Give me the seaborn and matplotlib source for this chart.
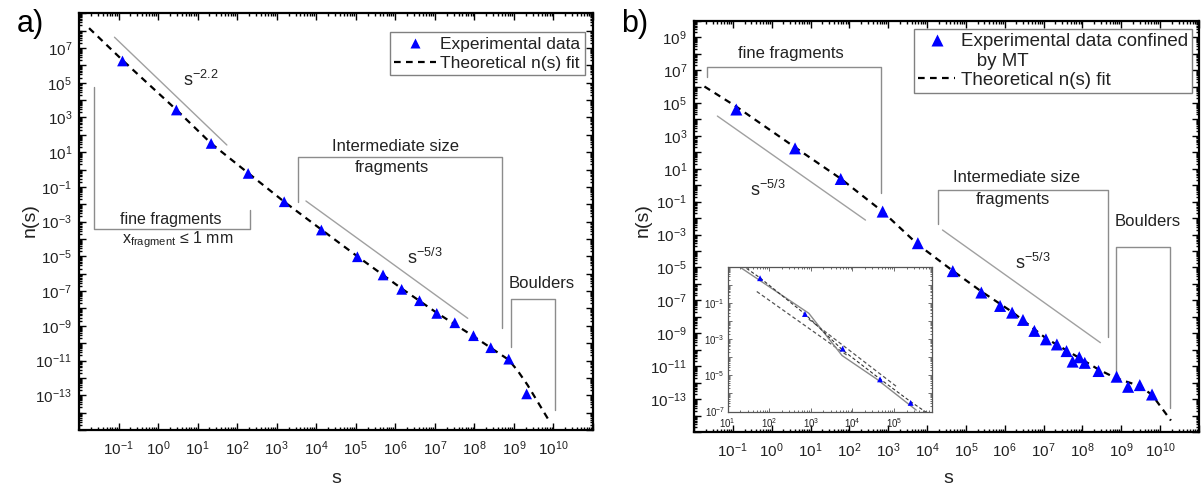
import numpy as np
import matplotlib
matplotlib.use("Agg")
import matplotlib.pyplot as plt
from matplotlib.lines import Line2D
from matplotlib.ticker import FixedLocator, FixedFormatter, LogLocator, NullFormatter
import seaborn as sns

# ---------------- data: panel a (all fragments) ----------------
s_exp_a = [1.26e-1, 2.9e0, 2.2e1, 1.9e2, 1.55e3, 1.35e4, 1.1e5, 4.9e5, 1.45e6,
           4.1e6, 1.12e7, 3.2e7, 9.5e7, 2.6e8, 7.4e8, 2.1e9]
n_exp_a = [1.8e6, 2.7e3, 3.2e1, 6.0e-1, 1.4e-2, 3.3e-4, 9.5e-6, 8.5e-7, 1.26e-7,
           2.8e-8, 5.2e-9, 1.5e-9, 2.7e-10, 5.5e-11, 1.2e-11, 1.2e-13]
s_fit_a = [1.8e-2, 1.26e-1, 2.9e0, 2.2e1, 1.9e2, 1.55e3, 1.35e4, 1.1e5, 1.45e6,
           1.12e7, 9.5e7, 7.4e8, 1.26e9, 2.2e9, 7.9e9]
n_fit_a = [1.4e8, 2.0e6, 2.8e3, 3.2e1, 6.3e-1, 1.4e-2, 3.5e-4, 1.0e-5, 1.4e-7,
           5.6e-9, 2.5e-10, 1.1e-11, 2.5e-12, 4.0e-13, 3.2e-15]
# power-law guides
s_pow22_a = [7.9e-2, 5.5e1]
n_pow22_a = [4.2e7, 2.6e1]
s_pow53_a = [5.5e3, 6.8e7]
n_pow53_a = [1.55e-2, 2.7e-9]

# ---------------- data: panel b (confined by MT) ----------------
s_exp_b = [1.23e-1, 4.0e0, 6.0e1, 7.2e2, 5.8e3, 4.6e4, 2.5e5, 7.6e5, 1.55e6,
           2.95e6, 5.8e6, 1.15e7, 2.2e7, 3.9e7, 5.6e7, 8.3e7, 1.15e8, 2.6e8,
           7.6e8, 1.5e9, 3.0e9, 6.2e9]
n_exp_b = [4.0e4, 1.74e2, 2.4e0, 2.5e-2, 3.0e-4, 6.0e-6, 3.0e-7, 4.6e-8, 1.8e-8,
           6.5e-9, 1.4e-9, 4.3e-10, 2.1e-10, 8.3e-11, 1.9e-11, 3.5e-11, 1.6e-11,
           5.1e-12, 2.3e-12, 5.6e-13, 7.1e-13, 1.9e-13]
s_fit_b = [1.86e-2, 1.23e-1, 4.0e0, 6.0e1, 7.2e2, 5.8e3, 4.6e4, 2.5e5, 1.55e6,
           1.15e7, 8.3e7, 2.6e8, 7.6e8, 3.0e9, 6.2e9, 1.9e10]
n_fit_b = [1.0e6, 6.0e4, 2.0e2, 2.5e0, 2.5e-2, 2.5e-4, 6.3e-6, 3.5e-7, 2.0e-8,
           5.0e-10, 3.2e-11, 6.3e-12, 1.8e-12, 6.3e-13, 1.8e-13, 5.0e-15]
s_pow53_fine_b = [4.0e-2, 2.6e2]
n_pow53_fine_b = [1.6e4, 7.6e-3]
s_pow53_int_b = [2.5e4, 2.9e8]
n_pow53_int_b = [1.9e-3, 2.7e-10]

# inset: the five smallest-size points of panel b, with local fits
s_inset_line = [1.95e1, 8.9e2, 5.6e3, 3.8e4, 3.4e5]
n_inset_line = [1.0e1, 2.75e-2, 1.26e-4, 6.3e-6, 1.2e-7]
s_inset_low = [5.0e1, 7.2e3]
n_inset_low = [4.4e-1, 1.35e-4]
s_inset_up = [8.9e2, 1.12e5]
n_inset_up = [1.3e-2, 2.5e-6]

# ---------------- region brackets (s, n corners) ----------------
bracket_fine_a = ([2.4e-2, 2.4e-2, 2.14e2, 2.14e2], [5.5e4, 3.6e-4, 3.6e-4, 4.7e-3])
bracket_int_a = ([3.4e3, 3.4e3, 5.1e8, 5.1e8], [1.4e-2, 5.5e0, 5.5e0, 7.1e-10])
bracket_bould_a = ([8.5e8, 8.5e8, 1.1e10, 1.1e10], [6.3e-11, 3.4e-8, 3.4e-8, 1.4e-14])
bracket_fine_b = ([2.1e-2, 2.1e-2, 6.6e2, 6.6e2], [4.0e6, 1.6e7, 1.6e7, 3.5e-1])
bracket_int_b = ([1.86e4, 1.86e4, 4.6e8, 4.6e8], [4.4e-3, 5.1e-1, 5.1e-1, 6.2e-10])
bracket_bould_b = ([7.4e8, 7.4e8, 1.8e10, 1.8e10], [3.7e-12, 1.8e-4, 1.8e-4, 2.8e-14])

# ---------------- style ----------------
sns.set_style("ticks")
plt.rcParams.update({
    "font.family": ["Liberation Sans", "DejaVu Sans"],
    "mathtext.fontset": "custom",
    "mathtext.rm": "Liberation Sans",
    "mathtext.it": "Liberation Sans:italic",
    "mathtext.bf": "Liberation Sans:bold",
    "mathtext.default": "regular",
    "axes.linewidth": 1.6,
    "axes.edgecolor": "black",
})

BLUE = "#0000ff"
GUIDE = "#a0a0a0"
BRACKET = "#8c8c8c"
TXT = "#222222"
DASH = (0, (3, 2.4))


def log_axis(ax, xexp, yexp, xlab, ylab, fs, major_len, minor_len, lw, color="black"):
    ax.set_xscale("log")
    ax.set_yscale("log")
    xt = [10.0 ** e for e in xexp]
    yt = [10.0 ** e for e in yexp]
    ax.xaxis.set_major_locator(FixedLocator(xt))
    ax.yaxis.set_major_locator(FixedLocator(yt))
    ax.xaxis.set_major_formatter(FixedFormatter(
        [f"$10^{{{e}}}$" if e in xlab else "" for e in xexp]))
    ax.yaxis.set_major_formatter(FixedFormatter(
        [f"$10^{{{e}}}$" if e in ylab else "" for e in yexp]))
    for axis in (ax.xaxis, ax.yaxis):
        axis.set_minor_locator(LogLocator(base=10, subs=np.arange(2, 10), numticks=200))
        axis.set_minor_formatter(NullFormatter())
    ax.tick_params(which="both", direction="in", top=True, right=True,
                   width=lw, color=color, labelsize=fs, labelcolor=TXT)
    ax.tick_params(which="major", length=major_len)
    ax.tick_params(which="minor", length=minor_len)
    ax.tick_params(axis="x", which="major", pad=7)
    ax.tick_params(axis="y", which="major", pad=5)


def bracket(ax, corners):
    ax.plot(corners[0], corners[1], color=BRACKET, lw=1.0, zorder=1)


fig = plt.figure(figsize=(12.04, 4.93), dpi=100)

# ================= panel a =================
ax = fig.add_axes([0.0656, 0.1278, 0.4269, 0.8452])
log_axis(ax, range(-2, 12), range(-15, 10), range(-1, 11), range(-13, 9, 2),
         11, 5, 2.5, 1.0)
ax.set_xlim(1e-2, 1e11)
ax.set_ylim(1e-15, 1e9)

sns.lineplot(x=s_pow22_a, y=n_pow22_a, ax=ax, color=GUIDE, lw=1.0, sort=False, estimator=None)
sns.lineplot(x=s_pow53_a, y=n_pow53_a, ax=ax, color=GUIDE, lw=1.0, sort=False, estimator=None)
for br in (bracket_fine_a, bracket_int_a, bracket_bould_a):
    bracket(ax, br)
sns.lineplot(x=s_fit_a, y=n_fit_a, ax=ax, color="black", lw=1.6, linestyle=DASH,
             sort=False, estimator=None, zorder=3)
sns.scatterplot(x=s_exp_a, y=n_exp_a, ax=ax, marker="^", color=BLUE, s=60,
                edgecolor="none", zorder=4)

kw = dict(transform=ax.transAxes, color=TXT, ha="center", va="center")
ax.text(0.237, 0.840, r"s$^{-2.2}$", fontsize=13, **kw)
ax.text(0.179, 0.506, "fine fragments", fontsize=11.5, **kw)
ax.text(0.193, 0.456, r"x$_{fragment}$ ≤ 1 mm", fontsize=11.5, **kw)
ax.text(0.615, 0.680, "Intermediate size", fontsize=12, **kw)
ax.text(0.609, 0.629, "fragments", fontsize=12, **kw)
ax.text(0.673, 0.413, r"s$^{-5/3}$", fontsize=13, **kw)
ax.text(0.901, 0.352, "Boulders", fontsize=12, **kw)

ax.set_xlabel("s", fontsize=14, color=TXT)
ax.set_ylabel("n(s)", fontsize=14, color=TXT)
ax.xaxis.set_label_coords(0.5, -0.097)
ax.yaxis.set_label_coords(-0.078, 0.504)

leg_handles = [Line2D([], [], marker="^", color=BLUE, ls="none", ms=7.5, mec="none"),
               Line2D([], [], color="black", lw=1.6, ls=DASH)]
leg = ax.legend(leg_handles, ["Experimental data", "Theoretical n(s) fit"],
                loc="upper right", bbox_to_anchor=(0.984, 0.954), borderaxespad=0,
                fontsize=12.5, frameon=True, fancybox=False, framealpha=1,
                edgecolor="#808080", handlelength=2.4, handletextpad=0.25,
                borderpad=0.25, labelspacing=0.2)
leg.get_frame().set_linewidth(1.0)
for t in leg.get_texts():
    t.set_color(TXT)

fig.text(0.025, 0.951, "a)", fontsize=22, color="black", ha="center", va="center")

# ================= panel b =================
bx = fig.add_axes([0.5764, 0.1237, 0.4194, 0.8343])
log_axis(bx, range(-2, 12), range(-15, 11), range(-1, 11), range(-13, 10, 2),
         11, 5, 2.5, 1.0)
bx.set_xlim(1e-2, 1e11)
bx.set_ylim(1e-15, 1e10)

sns.lineplot(x=s_pow53_fine_b, y=n_pow53_fine_b, ax=bx, color=GUIDE, lw=1.0, sort=False, estimator=None)
sns.lineplot(x=s_pow53_int_b, y=n_pow53_int_b, ax=bx, color=GUIDE, lw=1.0, sort=False, estimator=None)
for br in (bracket_fine_b, bracket_int_b, bracket_bould_b):
    bracket(bx, br)
sns.lineplot(x=s_fit_b, y=n_fit_b, ax=bx, color="black", lw=1.6, linestyle=DASH,
             sort=False, estimator=None, zorder=3)
sns.scatterplot(x=s_exp_b, y=n_exp_b, ax=bx, marker="^", color=BLUE, s=75,
                edgecolor="none", zorder=4)

kw = dict(transform=bx.transAxes, color=TXT, ha="center", va="center")
bx.text(0.192, 0.921, "fine fragments", fontsize=12, **kw)
bx.text(0.147, 0.588, r"s$^{-5/3}$", fontsize=13, **kw)
bx.text(0.639, 0.620, "Intermediate size", fontsize=12, **kw)
bx.text(0.632, 0.566, "fragments", fontsize=12, **kw)
bx.text(0.899, 0.511, "Boulders", fontsize=12, **kw)
bx.text(0.671, 0.410, r"s$^{-5/3}$", fontsize=13, **kw)

bx.set_xlabel("s", fontsize=14, color=TXT)
bx.set_ylabel("n(s)", fontsize=14, color=TXT)
bx.xaxis.set_label_coords(0.503, -0.093)
bx.yaxis.set_label_coords(-0.083, 0.515)

leg_handles_b = [Line2D([], [], marker="^", color=BLUE, ls="none", ms=8, mec="none"),
                 Line2D([], [], ls="none"),
                 Line2D([], [], color="black", lw=1.6, ls=DASH)]
legb = bx.legend(leg_handles_b,
                 ["Experimental data confined", "   by MT", "Theoretical n(s) fit"],
                 loc="upper right", bbox_to_anchor=(0.986, 0.979), borderaxespad=0,
                 fontsize=13.5, frameon=True, fancybox=False, framealpha=1,
                 edgecolor="#808080", handlelength=2.0, handletextpad=0.3,
                 borderpad=0.2, labelspacing=0.12)
legb.get_frame().set_linewidth(1.0)
for t in legb.get_texts():
    t.set_color(TXT)

fig.text(0.527, 0.951, "b)", fontsize=22, color="black", ha="center", va="center")

# ================= inset of panel b =================
ix = fig.add_axes([0.6044, 0.1653, 0.1694, 0.2931])
ix.set_facecolor("white")
log_axis(ix, range(1, 6), range(-7, 2), range(1, 6), range(-7, 0, 2),
         7, 3, 1.5, 0.6, color="#555555")
ix.set_xlim(1e1, 8e5)
ix.set_ylim(1e-7, 1e1)
for sp in ix.spines.values():
    sp.set_linewidth(0.9)
    sp.set_color("#555555")
ix.tick_params(axis="x", which="major", pad=3.5)
ix.tick_params(axis="y", which="major", pad=2)

sns.lineplot(x=s_inset_low, y=n_inset_low, ax=ix, color="#555555", lw=0.9,
             linestyle=(0, (3, 2)), sort=False, estimator=None)
sns.lineplot(x=s_inset_up, y=n_inset_up, ax=ix, color="#555555", lw=0.9,
             linestyle=(0, (3, 2)), sort=False, estimator=None)
sns.lineplot(x=s_inset_line, y=n_inset_line, ax=ix, color="#8a8a8a", lw=1.0,
             sort=False, estimator=None)
sns.lineplot(x=s_fit_b, y=n_fit_b, ax=ix, color="#333333", lw=0.8,
             linestyle=(0, (3, 2)), sort=False, estimator=None)
sns.scatterplot(x=s_exp_b[2:7], y=n_exp_b[2:7], ax=ix, marker="^", color=BLUE,
                s=18, edgecolor="none", zorder=4)
ix.set_xlabel("")
ix.set_ylabel("")

fig.savefig("out.png", dpi=100)
